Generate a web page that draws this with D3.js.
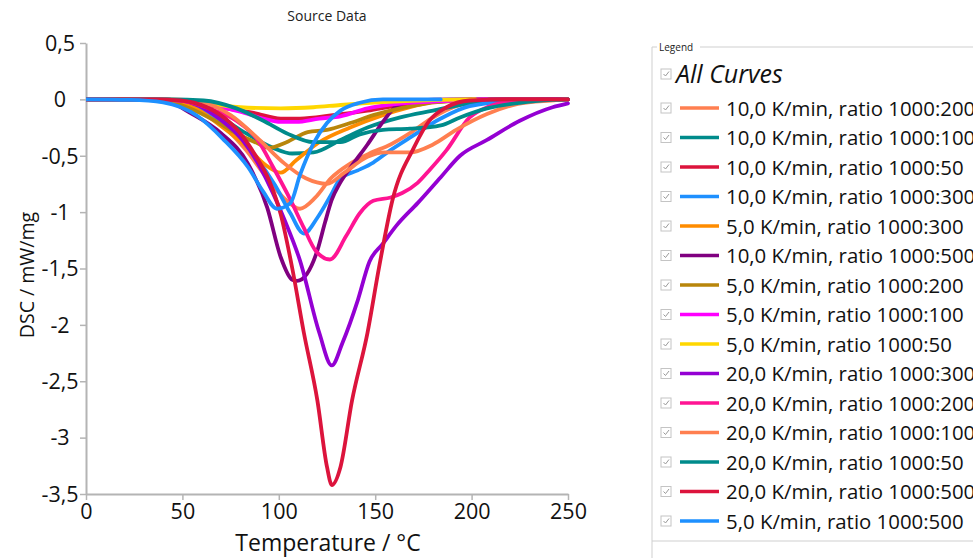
<!DOCTYPE html>
<html>
<head>
<meta charset="utf-8">
<script src="https://cdn.jsdelivr.net/npm/d3@7"></script>
<style>
  body { margin: 0; background: #fff; }
  svg { display: block; font-family: "Open Sans", "Noto Sans", sans-serif; }
</style>
</head>
<body>
<script>
// series names, in legend order
const seriesNames = [
	"10,0 K/min, ratio 1000:200",
	"10,0 K/min, ratio 1000:100",
	"10,0 K/min, ratio 1000:50",
	"10,0 K/min, ratio 1000:300",
	"5,0 K/min, ratio 1000:300",
	"10,0 K/min, ratio 1000:500",
	"5,0 K/min, ratio 1000:200",
	"5,0 K/min, ratio 1000:100",
	"5,0 K/min, ratio 1000:50",
	"20,0 K/min, ratio 1000:300",
	"20,0 K/min, ratio 1000:200",
	"20,0 K/min, ratio 1000:100",
	"20,0 K/min, ratio 1000:50",
	"20,0 K/min, ratio 1000:500",
	"5,0 K/min, ratio 1000:500"
];

const seriesColors = ["#ff7f50","#008b8b","#dc143c","#1e90ff","#ff8c00","#800080","#b8860b",
	"#ff00ff","#ffd700","#9400d3","#ff1493","#ff7f50","#008b8b","#dc143c","#1e90ff"];

// [temperature °C, DSC mW/mg]
const k10_200 = [[0,0],[30,0],[45,-0.02],[60,-0.1],[72,-0.25],[83,-0.45],[94,-0.7],[103,-0.88],[111,-0.97],[119,-0.87],[127,-0.7],[137,-0.57],[147,-0.48],[158,-0.4],[168,-0.3],[179,-0.17],[194,-0.05],[215,0],[250,0]];
const k10_100 = [[0,0],[38,0],[59,-0.05],[80,-0.27],[97,-0.43],[107,-0.48],[118,-0.47],[132,-0.36],[146,-0.25],[163,-0.16],[180,-0.1],[199,-0.035],[215,-0.01],[250,0]];
const k10_50 = [[0,0],[33,0],[44,-0.01],[69,-0.07],[87,-0.12],[101,-0.17],[111,-0.17],[128,-0.14],[146,-0.1],[163,-0.05],[184,-0.02],[204,0],[250,0]];
const k10_300 = [[0,0],[44,-0.01],[59,-0.08],[75,-0.26],[88,-0.51],[98,-0.76],[106,-1.01],[113,-1.19],[120,-1.05],[127,-0.85],[132,-0.7],[141,-0.63],[149,-0.56],[158,-0.45],[168,-0.34],[184,-0.17],[199,-0.06],[225,-0.01],[250,0]];
const k5_300 = [[0,0],[33,-0.005],[54,-0.06],[71,-0.25],[84,-0.43],[93,-0.58],[101,-0.65],[109,-0.54],[121,-0.38],[137,-0.25],[154,-0.14],[168,-0.07],[184,-0.01],[200,0]];
const k10_500 = [[0,0],[30,0],[44,-0.03],[54,-0.12],[70,-0.3],[84,-0.57],[94,-0.96],[101,-1.4],[107,-1.6],[109.5,-1.61],[114.5,-1.55],[120,-1.34],[124,-1.09],[127.5,-0.89],[131.5,-0.75],[137,-0.61],[146,-0.4],[154,-0.2],[161,-0.06],[171,-0.01],[190,0],[250,0]];
const k5_200 = [[0,0],[33,0],[54,-0.08],[67,-0.19],[78,-0.3],[89,-0.39],[95,-0.43],[104,-0.38],[115,-0.29],[125,-0.27],[137,-0.21],[149,-0.14],[163,-0.08],[177,-0.035],[194,-0.01],[202,0]];
const k5_100 = [[0,0],[33,0],[59,-0.03],[80,-0.11],[92,-0.17],[101,-0.2],[109,-0.2],[121,-0.17],[132,-0.15],[146,-0.08],[159,-0.045],[180,-0.02],[208,0]];
const k5_50 = [[0,0],[33,0],[54,-0.02],[67,-0.045],[80,-0.07],[101,-0.08],[118,-0.07],[132,-0.05],[154,-0.025],[184,-0.005],[202,0]];
const k20_300 = [[0,0],[35,0],[49,-0.01],[69,-0.17],[85,-0.45],[95,-0.76],[103,-1.07],[111,-1.43],[121,-2.07],[127.5,-2.36],[133,-2.16],[141,-1.78],[147,-1.44],[154,-1.28],[161,-1.12],[172,-0.92],[184,-0.69],[194,-0.5],[208,-0.36],[225,-0.19],[242,-0.07],[250,-0.035]];
const k20_200 = [[0,0],[35,0],[49,-0.01],[67,-0.1],[78,-0.19],[89,-0.36],[97,-0.6],[106,-0.89],[113,-1.14],[119,-1.34],[126.5,-1.42],[135,-1.21],[142,-1.01],[149,-0.9],[158,-0.87],[164,-0.83],[172,-0.74],[178,-0.63],[187,-0.45],[199,-0.16],[208,-0.07],[225,-0.01],[250,0]];
const k20_100 = [[0,0],[44,0],[59,-0.02],[75,-0.14],[90,-0.36],[103,-0.57],[114,-0.7],[125,-0.75],[134,-0.65],[146,-0.51],[155,-0.47],[168,-0.47],[180,-0.4],[192,-0.27],[208,-0.13],[224,-0.04],[241,-0.01],[250,0]];
const k20_50 = [[0,0],[44,0],[61,-0.01],[78,-0.08],[92,-0.19],[104,-0.3],[118,-0.38],[132,-0.38],[142,-0.31],[154,-0.27],[168,-0.26],[184,-0.23],[194,-0.16],[208,-0.08],[225,-0.03],[242,-0.005],[250,0]];
const k20_500 = [[0,0],[35,0],[49,-0.01],[75,-0.21],[80,-0.3],[88,-0.5],[95,-0.72],[101,-1.02],[107,-1.5],[113,-2.07],[120,-2.67],[125,-3.26],[127.5,-3.42],[132,-3.26],[138,-2.67],[146,-2.07],[152,-1.49],[159,-0.89],[170,-0.43],[178,-0.19],[187,-0.07],[199,-0.01],[220,0],[250,0]];
const k5_500 = [[0,0],[23,-0.005],[40,-0.027],[58,-0.15],[71,-0.35],[84,-0.6],[92,-0.82],[99,-0.97],[106,-0.92],[111,-0.67],[118,-0.39],[125,-0.21],[132,-0.1],[142,-0.03],[154,0],[184,0]];

const seriesData = [k10_200,k10_100,k10_50,k10_300,k5_300,k10_500,k5_200,k5_100,k5_50,k20_300,k20_200,k20_100,k20_50,k20_500,k5_500];

const xTicks = [0,50,100,150,200,250];
const yTicks = [0.5,0,-0.5,-1,-1.5,-2,-2.5,-3,-3.5];

const width = 973, height = 558;
const plotLeft = 86, plotRight = 568, plotTop = 43, plotBottom = 494;

const svg = d3.select("body").append("svg").attr("width",width).attr("height",height);

const x = d3.scaleLinear().domain([0,250]).range([plotLeft,plotRight]);
const y = d3.scaleLinear().domain([0.5,-3.5]).range([plotTop,plotBottom]);
const fmt = d => String(d).replace(".", ",");

svg.append("text")
	.attr("x",327).attr("y",21)
	.attr("text-anchor","middle")
	.attr("font-size",14).attr("fill","#222")
	.text("Source Data");

// axes
const yAxis = svg.append("g")
	.attr("transform",`translate(${plotLeft},0)`)
	.call(d3.axisLeft(y).tickValues(yTicks).tickSize(6).tickSizeOuter(0).tickFormat(fmt));
const xAxis = svg.append("g")
	.attr("transform",`translate(0,${plotBottom})`)
	.call(d3.axisBottom(x).tickValues(xTicks).tickSize(6).tickSizeOuter(0));

[yAxis,xAxis].forEach(g => {
	g.select(".domain").attr("stroke","#b4b4b4").attr("stroke-width",2);
	g.selectAll(".tick line").attr("stroke","#b4b4b4").attr("stroke-width",1.5);
	g.selectAll(".tick text").attr("font-size",21.5).attr("fill","#111").attr("font-family","'Open Sans', sans-serif");
});
yAxis.selectAll(".tick text").attr("text-anchor","middle").attr("x",-26).attr("dy","0.34em");
xAxis.selectAll(".tick text").attr("y",10);

svg.append("text")
	.attr("x",328).attr("y",551)
	.attr("text-anchor","middle")
	.attr("font-size",23).attr("fill","#111")
	.text("Temperature / °C");

svg.append("text")
	.attr("transform","translate(34,275) rotate(-90)")
	.attr("text-anchor","middle")
	.attr("font-size",19.5).attr("fill","#111")
	.text("DSC / mW/mg");

// curves
svg.append("clipPath").attr("id","plot")
	.append("rect").attr("x",plotLeft).attr("y",plotTop-5).attr("width",plotRight-plotLeft+5).attr("height",plotBottom-plotTop+5);

const line = d3.line()
	.x(d => x(d[0]))
	.y(d => y(d[1]))
	.curve(d3.curveMonotoneX);

svg.append("g").attr("clip-path","url(#plot)")
	.selectAll("path")
	.data(seriesData)
	.enter().append("path")
	.attr("d",line)
	.attr("fill","none")
	.attr("stroke",(d,i) => seriesColors[i])
	.attr("stroke-width",3.8)
	.attr("stroke-linejoin","round")
	.attr("stroke-linecap","round");

// legend
const lg = svg.append("g");
lg.append("path")
	.attr("d","M652,47 H657 M700,47 H980 M652,47 V558 M652,541 H980")
	.attr("stroke","#cfcfcf").attr("stroke-width",1).attr("fill","none");
lg.append("text")
	.attr("x",659).attr("y",51)
	.attr("font-size",10).attr("fill","#222")
	.text("Legend");

function checkbox(g, cx, cy) {
	g.append("rect")
		.attr("x",cx-5).attr("y",cy-5).attr("width",10).attr("height",10)
		.attr("fill","#fff").attr("stroke","#c4c4c4").attr("stroke-width",1);
	g.append("path")
		.attr("d",`M${cx-2.5},${cy} L${cx-0.5},${cy+2} L${cx+3},${cy-2.5}`)
		.attr("fill","none").attr("stroke","#999").attr("stroke-width",1);
}

checkbox(lg, 666, 74);
lg.append("text")
	.attr("x",676).attr("y",83)
	.attr("font-size",25).attr("font-style","italic").attr("fill","#111")
	.text("All Curves");

const rows = lg.selectAll("g.row")
	.data(seriesNames)
	.enter().append("g")
	.attr("class","row")
	.attr("transform",(d,i) => `translate(0,${108 + i*29.5})`);

rows.each(function(){ checkbox(d3.select(this), 666, 0); });
rows.append("line")
	.attr("x1",680).attr("x2",719).attr("y1",0).attr("y2",0)
	.attr("stroke",(d,i) => seriesColors[i])
	.attr("stroke-width",3.5);
rows.append("text")
	.attr("x",726).attr("y",7.5)
	.attr("font-size",20.4).attr("fill","#111")
	.text(d => d);
</script>
</body>
</html>
